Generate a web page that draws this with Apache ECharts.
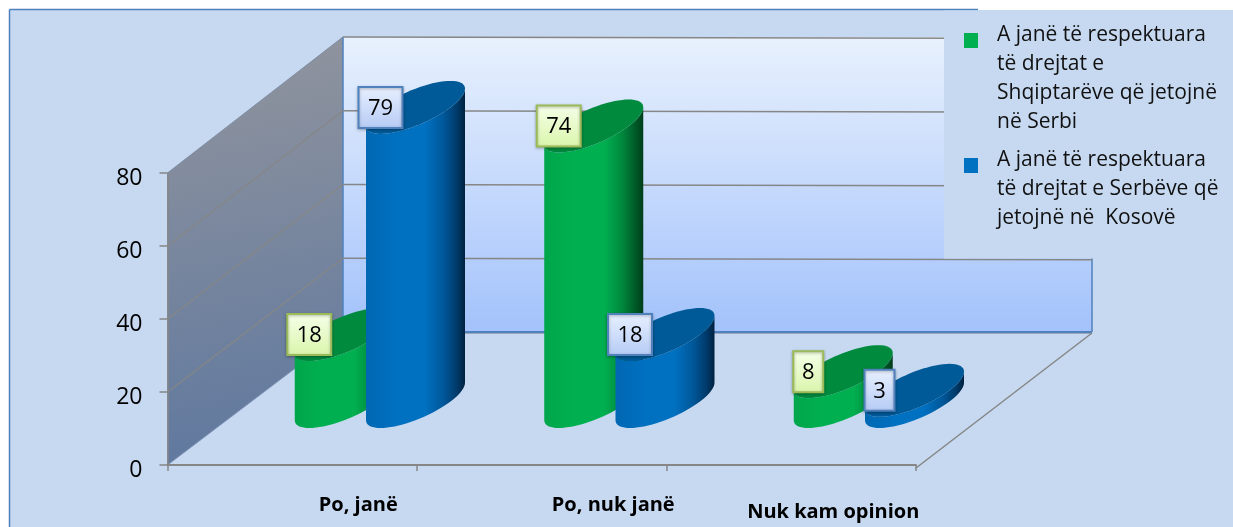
<!DOCTYPE html>
<html><head><meta charset="utf-8">
<style>html,body{margin:0;padding:0;background:#fff}#c{width:1233px;height:527px}</style>
<script src="https://cdn.jsdelivr.net/npm/echarts@6/dist/echarts.min.js"></script>
</head><body><div id="c"></div>
<script>
const categories = ['Po, janë', 'Po, nuk janë', 'Nuk kam opinion'];
const seriesAName = 'A janë të respektuara\ntë drejtat e\nShqiptarëve që jetojnë\nnë Serbi';
const seriesBName = 'A janë të respektuara\ntë drejtat e Serbëve që\njetojnë në  Kosovë';
const seriesAValues = [18, 74, 8];
const seriesBValues = [79, 18, 3];
const yTicks = [0, 20, 40, 60, 80];

const FONT = '"Open Sans"';
const DX = 175.5, DY = -133;            // oblique depth of the floor
const WALL = 295 / 292;
const CYL = 1.02;
const RX = 35, RD_X = 35, RD_Y = -26.5; // cylinder radius vectors on the floor
const GRAY = '#868686', EDGE = '#4f81bd';

function walls(params, api) {
  const cs = params.coordSys;
  const x0 = cs.x, y0 = cs.y + cs.height, yT = cs.y;
  const bx = x0 + DX, by = y0 + DY, rx = 1092;
  const backTop = by - (y0 - yT) * WALL;
  return { type: 'group', children: [
    { type: 'polygon', shape: { points: [[x0, yT], [bx, backTop], [bx, by], [x0, y0]] },
      style: { fill: new echarts.graphic.LinearGradient(0, 0, 0.45, 1, [
        { offset: 0, color: '#92959d' }, { offset: 1, color: '#5f789f' }]),
        stroke: '#7f93b5', lineWidth: 1 } },
    { type: 'rect', shape: { x: bx, y: backTop, width: rx - bx, height: by - backTop },
      style: { fill: new echarts.graphic.LinearGradient(0, 0, 0, 1, [
        { offset: 0, color: '#e8f1fd' }, { offset: 1, color: '#a3c2fb' }]) } },
    { type: 'line', shape: { x1: bx, y1: backTop, x2: bx, y2: by }, style: { stroke: EDGE, lineWidth: 1.5 } },
    { type: 'line', shape: { x1: rx, y1: backTop, x2: rx, y2: by }, style: { stroke: EDGE, lineWidth: 1.5 } },
    { type: 'line', shape: { x1: bx, y1: by + 1.5, x2: rx, y2: by + 1.5 }, style: { stroke: '#9aa7bd', lineWidth: 1 } },
    { type: 'line', shape: { x1: bx, y1: by, x2: rx, y2: by }, style: { stroke: EDGE, lineWidth: 2 } },
    { type: 'line', shape: { x1: x0 + (cs.width), y1: y0 + 3, x2: rx, y2: by + 1 }, style: { stroke: GRAY, lineWidth: 1.5 } }
  ] };
}

function gridLines(params, api) {
  const v = api.value(0);
  if (v === 0) return null;
  const cs = params.coordSys;
  const y = api.coord([0, v])[1], y0 = cs.y + cs.height;
  const x0 = cs.x, bx = x0 + DX, by = y0 + DY - (y0 - y) * WALL;
  return { type: 'group', children: [
    { type: 'line', shape: { x1: x0, y1: y, x2: bx, y2: by }, style: { stroke: GRAY, lineWidth: v === 80 ? 1 : 1.2, opacity: v === 80 ? 0.4 : 1 } },
    { type: 'line', shape: { x1: bx, y1: by, x2: 1092, y2: by + 1.5 }, style: { stroke: GRAY, lineWidth: 1.5 } }
  ] };
}

function cylinder(cfg) {
  return function (params, api) {
    const p0 = api.coord([api.value(0), 0]);
    const p1 = api.coord([api.value(0), api.value(1)]);
    const cx = p0[0] + cfg.offset, baseY = p0[1] - 63.5;
    const topY = baseY - (p0[1] - p1[1]) * CYL;
    const pt = (cy, deg) => {
      const t = deg * Math.PI / 180;
      return [cx + RX * Math.cos(t) + RD_X * Math.sin(t), cy + RD_Y * Math.sin(t)];
    };
    const body = [], face = [];
    for (let d = 45; d >= -135; d -= 5) body.push(pt(baseY, d));
    for (let d = -135; d <= 45; d += 5) body.push(pt(topY, d));
    for (let d = 0; d < 360; d += 5) face.push(pt(topY, d));
    const text = String(api.value(1));
    const w = text.length > 1 ? 44 : 30, h = 41;
    const bxC = cx - 35;
    return { type: 'group', children: [
      { type: 'polygon', shape: { points: body }, style: { fill: new echarts.graphic.LinearGradient(0, 0, 1, 0, cfg.side) } },
      { type: 'polygon', shape: { points: face }, style: { fill: cfg.top } },
      { type: 'rect', shape: { x: bxC - w / 2, y: topY - h / 2, width: w, height: h },
        style: { fill: new echarts.graphic.LinearGradient(0, 0, 0, 1, cfg.box), stroke: cfg.boxEdge, lineWidth: 2,
          shadowBlur: 3, shadowColor: 'rgba(0,0,0,0.3)', shadowOffsetY: 1 } },
      { type: 'text', x: bxC, y: topY + 1, style: { text: text, fill: '#000', font: '22px ' + FONT, align: 'center', verticalAlign: 'middle' } }
    ] };
  };
}

const panelGraphic = [
  { type: 'rect', z: 0, shape: { x: 10, y: 10, width: 1223, height: 517 }, style: { fill: '#c6d9f1' } },
  { type: 'line', z: 1, shape: { x1: 9.5, y1: 9.5, x2: 9.5, y2: 527 }, style: { stroke: EDGE, lineWidth: 1.5 } },
  { type: 'line', z: 1, shape: { x1: 9.5, y1: 9.5, x2: 978, y2: 9.5 }, style: { stroke: EDGE, lineWidth: 1.5 } },
  { type: 'rect', z: 8, shape: { x: 944, y: 10.5, width: 289, height: 248 }, style: { fill: '#c6d9f1' } }
];

const FS = 21;
function legendLabel() {
  return name => '{s| }\n' + name.split('\n').map(l => '{t|' + l + '}').join('\n');
}
function legendStyle(spacer) {
  return { padding: [0, 0, 0, 14], rich: {
    s: { fontFamily: FONT, fontSize: 1, lineHeight: spacer, height: spacer },
    t: { fontFamily: FONT, fontSize: FS, color: '#111', lineHeight: 29, height: 29 }
  } };
}

const option = {
  backgroundColor: '#ffffff',
  animation: false,
  graphic: { elements: panelGraphic },
  grid: { left: 167.5, right: 317, top: 173, bottom: 62, containLabel: false },
  legend: [
    { data: [seriesAName], orient: 'vertical', left: 964, top: -56, padding: 0, z: 20, itemWidth: 14, itemHeight: 15, icon: 'rect',
      selectedMode: false, formatter: legendLabel(), textStyle: legendStyle(77) },
    { data: [seriesBName], orient: 'vertical', left: 964, top: 98, padding: 0, z: 20, itemWidth: 14, itemHeight: 15, icon: 'rect',
      selectedMode: false, formatter: legendLabel(), textStyle: legendStyle(48) }
  ],
  xAxis: {
    type: 'category', z: 6, offset: 2,
    data: [
      { value: categories[0], textStyle: { padding: [0, 0, 0, 132] } },
      { value: categories[1], textStyle: { padding: [0, 0, 0, 143] } },
      { value: categories[2], textStyle: { padding: [7, 0, 0, 84] } }
    ],
    axisLine: { lineStyle: { color: GRAY, width: 2 } },
    axisTick: { show: true, length: 6, alignWithLabel: false, lineStyle: { color: GRAY, width: 1.5 } },
    axisLabel: { interval: 0, margin: 28, fontFamily: FONT, fontWeight: 'bold', fontSize: 20, color: '#000' },
    splitLine: { show: false }
  },
  yAxis: {
    type: 'value', z: 6, min: 0, max: 80, interval: 20,
    axisLine: { show: true, lineStyle: { color: GRAY, width: 1.5 } },
    axisTick: { show: true, length: 8, lineStyle: { color: GRAY, width: 1.5 } },
    axisLabel: { margin: 25, formatter: '{v|{value}}', rich: { v: { fontFamily: FONT, fontSize: 23, color: '#000', padding: [10, 0, 0, 0] } } },
    splitLine: { show: false }
  },
  series: [
    { type: 'custom', name: 'walls', z: 2, silent: true, clip: false, data: [[0]], renderItem: walls, encode: { y: 0 } },
    { type: 'custom', name: 'grid', z: 3, silent: true, clip: false, data: yTicks.map(v => [v]), renderItem: gridLines, encode: { y: 0 } },
    { type: 'custom', name: seriesAName, z: 4, silent: true, clip: false, itemStyle: { color: '#00b050' },
      encode: { x: 0, y: 1 }, data: seriesAValues.map((v, i) => [i, v]),
      renderItem: cylinder({ offset: 52,
        side: [{ offset: 0, color: '#00a64b' }, { offset: 0.3, color: '#00b050' }, { offset: 0.6, color: '#00b050' }, { offset: 0.78, color: '#008a3e' }, { offset: 0.92, color: '#005a28' }, { offset: 1, color: '#003d1b' }],
        top: '#008a3e', box: [{ offset: 0, color: '#f6ffe9' }, { offset: 1, color: '#daf5ab' }], boxEdge: '#9bbb59' }) },
    { type: 'custom', name: seriesBName, z: 5, silent: true, clip: false, itemStyle: { color: '#0070c0' },
      encode: { x: 0, y: 1 }, data: seriesBValues.map((v, i) => [i, v]),
      renderItem: cylinder({ offset: 123.25,
        side: [{ offset: 0, color: '#0068b3' }, { offset: 0.3, color: '#0070c0' }, { offset: 0.6, color: '#0070c0' }, { offset: 0.78, color: '#00589a' }, { offset: 0.92, color: '#003a6a' }, { offset: 1, color: '#00213f' }],
        top: '#005a98', box: [{ offset: 0, color: '#e8f0ff' }, { offset: 1, color: '#b5cbf5' }], boxEdge: '#4f81bd' }) }
  ]
};
echarts.init(document.getElementById('c'), null, { renderer: 'canvas' }).setOption(option);
</script></body></html>
